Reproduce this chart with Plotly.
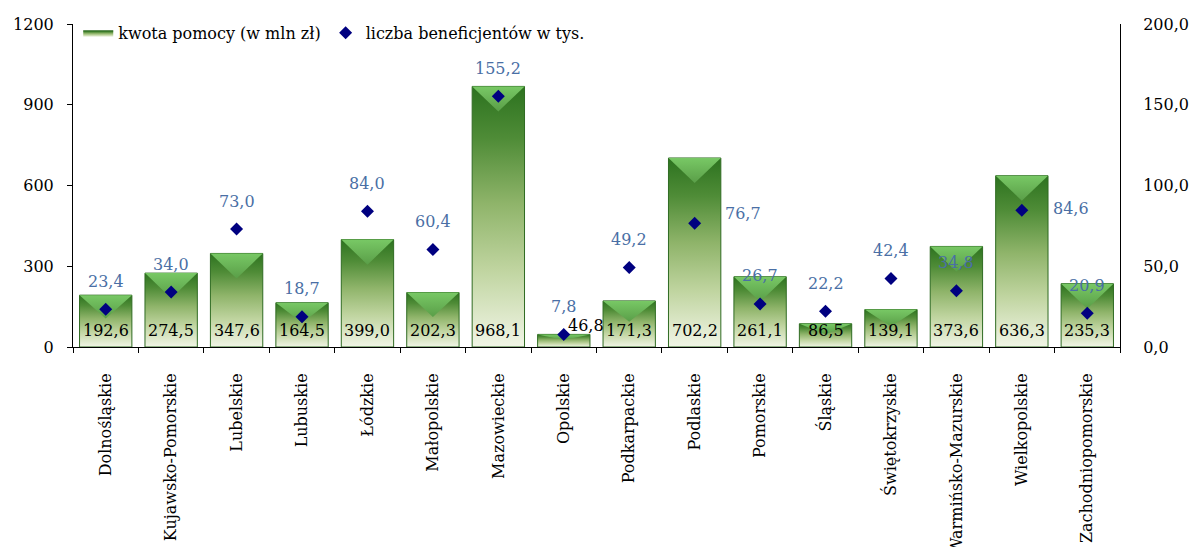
import plotly.graph_objects as go

wojewodztwa = [
    "Dolnośląskie", "Kujawsko-Pomorskie", "Lubelskie", "Lubuskie", "Łódzkie",
    "Małopolskie", "Mazowieckie", "Opolskie", "Podkarpackie", "Podlaskie",
    "Pomorskie", "Śląskie", "Świętokrzyskie", "Warmińsko-Mazurskie",
    "Wielkopolskie", "Zachodniopomorskie",
]
kwota_pomocy = [192.6, 274.5, 347.6, 164.5, 399.0, 202.3, 968.1, 46.8,
                171.3, 702.2, 261.1, 86.5, 139.1, 373.6, 636.3, 235.3]
liczba_beneficjentow = [23.4, 34.0, 73.0, 18.7, 84.0, 60.4, 155.2, 7.8,
                        49.2, 76.7, 26.7, 22.2, 42.4, 34.8, 84.6, 20.9]

FONT = "DejaVu Serif"
BLUE_TXT = "#4a6fa5"


def fmt(v):
    return "{:.1f}".format(v).replace(".", ",")


body_scale = [[0.0, "#f1f5e6"], [0.3, "#bfd49f"], [0.55, "#8fb46a"],
              [0.8, "#4f8c37"], [1.0, "#2c721f"]]
bevel_scale = [[0.0, "#5a9e48"], [1.0, "#78c865"]]

fig = go.Figure()

half = 0.4
bevel = 93  # ok. 25 px na osi 0-1200
for i, v in enumerate(kwota_pomocy):
    fig.add_trace(go.Scatter(
        x=[i - half, i - half, i + half, i + half, i - half],
        y=[0, v, v, 0, 0],
        fill="toself",
        fillgradient=dict(type="vertical", colorscale=body_scale),
        line=dict(color="#2f6b22", width=1),
        mode="lines",
        name="kwota pomocy (w mln zł)",
        legendgroup="kwota",
        showlegend=(i == 0),
        hoverinfo="skip",
    ))
    d = min(bevel, 0.45 * v)
    fig.add_trace(go.Scatter(
        x=[i - half, i + half, i, i - half],
        y=[v, v, v - d, v],
        fill="toself",
        fillgradient=dict(type="vertical", colorscale=bevel_scale),
        line=dict(width=0),
        mode="lines",
        legendgroup="kwota",
        showlegend=False,
        hoverinfo="skip",
    ))

fig.add_trace(go.Scatter(
    x=list(range(len(wojewodztwa))),
    y=liczba_beneficjentow,
    yaxis="y2",
    mode="markers",
    marker=dict(symbol="diamond", size=10, color="#000080"),
    name="liczba beneficjentów w tys.",
))

annotations = []
for i, v in enumerate(kwota_pomocy):
    if wojewodztwa[i] == "Opolskie":
        annotations.append(dict(x=i, y=v, xref="x", yref="y", text=fmt(v),
                                showarrow=False, yanchor="middle", xshift=22, yshift=9,
                                font=dict(family=FONT, size=16, color="black")))
    else:
        annotations.append(dict(x=i, y=0, xref="x", yref="y", text=fmt(v),
                                showarrow=False, yanchor="middle", yshift=17,
                                font=dict(family=FONT, size=16, color="black")))

for i, v in enumerate(liczba_beneficjentow):
    xs, ys = 0, 28
    if wojewodztwa[i] == "Podlaskie":
        xs, ys = 48, 10
    elif wojewodztwa[i] == "Wielkopolskie":
        xs, ys = 49, 2
    annotations.append(dict(x=i, y=v, xref="x", yref="y2", text=fmt(v),
                            showarrow=False, yanchor="middle", xshift=xs, yshift=ys,
                            font=dict(family=FONT, size=16, color=BLUE_TXT)))

n = len(wojewodztwa)
granice = [i - 0.5 for i in range(n + 1)]
ticki_lewe = [0, 300, 600, 900, 1200]
ticki_prawe = [0, 50, 100, 150, 200]


def znaczniki(zakres, wartosci, strona, kierunek):
    # dodatkowa os tylko z kreskami (zeby kreski przecinaly os)
    return dict(range=zakres, overlaying="y", side=strona, tickmode="array",
                tickvals=wartosci, ticks=kierunek, ticklen=5, tickcolor="black",
                showticklabels=False, showgrid=False, zeroline=False,
                automargin=False)


fig.update_layout(
    width=1190,
    height=547,
    margin=dict(l=73, r=70, t=24, b=200, autoexpand=False),
    paper_bgcolor="white",
    plot_bgcolor="white",
    separators=", ",
    font=dict(family=FONT, size=16, color="black"),
    showlegend=True,
    legend=dict(orientation="h", x=0.005, y=1.025, xanchor="left", yanchor="top",
                font=dict(family=FONT, size=16), bgcolor="rgba(0,0,0,0)"),
    annotations=annotations,
    xaxis=dict(
        range=[-0.5, n - 0.5],
        tickmode="array",
        tickvals=list(range(n)),
        ticktext=wojewodztwa,
        tickangle=-90,
        ticks="",
        showline=True,
        linecolor="black",
        linewidth=1,
        showgrid=False,
        zeroline=False,
        automargin=False,
        ticklabelstandoff=19,
        minor=dict(tickmode="array", tickvals=granice,
                   ticks="outside", ticklen=5, tickcolor="black", showgrid=False),
    ),
    xaxis2=dict(
        range=[-0.5, n - 0.5],
        overlaying="x",
        anchor="y",
        tickmode="array",
        tickvals=granice,
        ticks="inside",
        ticklen=5,
        tickcolor="black",
        showticklabels=False,
        showline=False,
        showgrid=False,
        zeroline=False,
        automargin=False,
    ),
    yaxis=dict(
        range=[0, 1200],
        tickmode="array",
        tickvals=ticki_lewe,
        tickformat="d",
        ticks="outside",
        ticklen=5,
        tickcolor="black",
        showline=True,
        linecolor="black",
        showgrid=False,
        zeroline=False,
        automargin=False,
        ticklabelstandoff=10,
    ),
    yaxis2=dict(
        range=[0, 200],
        overlaying="y",
        side="right",
        tickmode="array",
        tickvals=ticki_prawe,
        tickformat=".1f",
        ticks="outside",
        ticklen=19,
        tickcolor="rgba(0,0,0,0)",
        showline=True,
        linecolor="black",
        showgrid=False,
        zeroline=False,
        automargin=False,
    ),
    yaxis3=znaczniki([0, 1200], ticki_lewe, "left", "inside"),
    yaxis4=znaczniki([0, 200], ticki_prawe, "right", "inside"),
    yaxis5=znaczniki([0, 200], ticki_prawe, "right", "outside"),
)

fig.write_html("out.html", config={"displayModeBar": False},
               post_script="document.body.style.margin = '0';")
